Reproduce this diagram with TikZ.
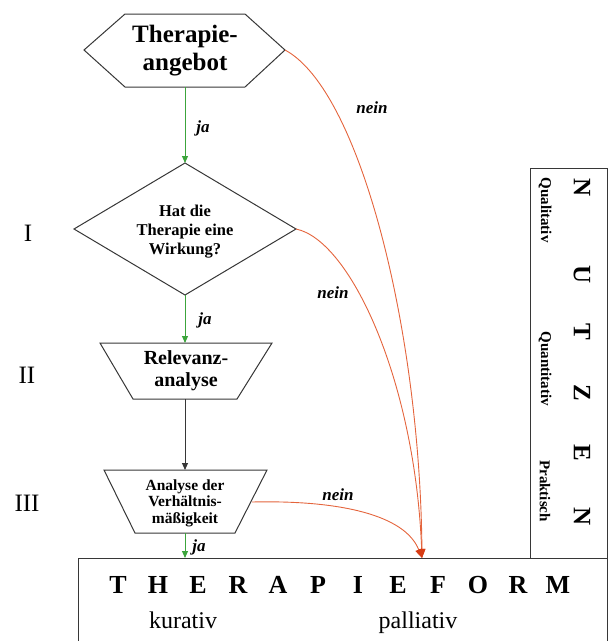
\documentclass[tikz,border=0pt]{standalone}
\usepackage{fontspec}
\setmainfont{Liberation Serif}
\usetikzlibrary{arrows.meta}
\definecolor{jagreen}{RGB}{60,165,60}
\definecolor{neinred}{RGB}{228,100,60}
\definecolor{tipred}{RGB}{215,60,20}
\definecolor{linegray}{RGB}{55,55,55}
\begin{document}
\begin{tikzpicture}[x=1pt,y=-1pt,
  outline/.style={draw=linegray, line width=1pt, line join=miter},
  boxtext/.style={align=center, inner sep=0pt, text=black},
  yesarrow/.style={draw=jagreen, line width=0.9pt, -{Triangle[length=7pt,width=6pt]}},
  plainarrow/.style={draw=linegray, line width=0.9pt, -{Triangle[length=7pt,width=6pt]}},
  noarrow/.style={draw=neinred, line width=0.9pt, -{Triangle[length=9pt,width=7pt,color=tipred]}},
  edgelabel/.style={font=\fontsize{17}{19}\selectfont\bfseries\itshape, inner sep=0pt},
  roman/.style={font=\fontsize{25}{28}\selectfont, inner sep=0pt},
  bigletter/.style={font=\fontsize{26}{28}\selectfont\bfseries, inner sep=0pt},
  sideletter/.style={font=\fontsize{25}{28}\selectfont\bfseries, inner sep=0pt, rotate=-90},
  sidetext/.style={font=\fontsize{15}{17}\selectfont\bfseries, inner sep=0pt, rotate=-90},
  formtext/.style={font=\fontsize{24}{26}\selectfont, inner sep=0pt, anchor=base}
]
\useasboundingbox (0,0) rectangle (609,641);

% hexagon
\coordinate (hexL) at (84,50);
\coordinate (hexR) at (285,50);
\coordinate (hexB) at (185,87);
\draw[outline] (hexL) -- (125,14) -- (245,14) -- (hexR) -- (245,87) -- (125,87) -- cycle;
\node[boxtext, font=\fontsize{25}{28}\selectfont\bfseries] (angebot) at (185,51) {Therapie-\\angebot};

% diamond
\coordinate (diaT) at (185,163);
\coordinate (diaR) at (296,229);
\coordinate (diaB) at (185,295);
\coordinate (diaL) at (74,229);
\draw[outline] (diaT) -- (diaR) -- (diaB) -- (diaL) -- cycle;
\node[boxtext, font=\fontsize{16.5}{19}\selectfont\bfseries] (wirkung) at (185,232) {Hat die\\Therapie eine\\Wirkung?};

% Relevanzanalyse
\coordinate (relT) at (185,343);
\coordinate (relB) at (185,399);
\draw[outline] (100,343) -- (272,343) -- (237,399) -- (133,399) -- cycle;
\node[boxtext, font=\fontsize{20}{22}\selectfont\bfseries] (relevanz) at (186,371) {Relevanz-\\analyse};

% Verhaeltnismaessigkeit
\coordinate (verT) at (185,470);
\coordinate (verB) at (185,533);
\coordinate (verR) at (252,502);
\draw[outline] (104,470) -- (267,470) -- (235,533) -- (135,533) -- cycle;
\node[boxtext, font=\fontsize{15.5}{16.5}\selectfont\bfseries] (verh) at (185,503) {Analyse der\\Verhältnis-\\mäßigkeit};

% Therapieform box
\coordinate (thfTop) at (422,558);
\coordinate (thfJa) at (185,558);
\draw[outline] (78,645) -- (78,558) -- (607,558) -- (607,645);
\node[bigletter, anchor=base] (thf) at (338,593) {%
  \makebox[40pt]{T}\makebox[40pt]{H}\makebox[40pt]{E}\makebox[40pt]{R}%
  \makebox[40pt]{A}\makebox[40pt]{P}\makebox[40pt]{I}\makebox[40pt]{E}%
  \makebox[40pt]{F}\makebox[40pt]{O}\makebox[40pt]{R}\makebox[40pt]{M}};
\node[formtext] (kurativ) at (183,628) {kurativ};
\node[formtext] (palliativ) at (418,628) {palliativ};

% Nutzen box
\draw[outline] (530,558) -- (530,168) -- (607,168) -- (607,558);
\node[sideletter] (n1) at (582,188) {N};
\node[sideletter] (n2) at (582,275) {U};
\node[sideletter] (n3) at (582,332) {T};
\node[sideletter] (n4) at (582,393) {Z};
\node[sideletter] (n5) at (582,453) {E};
\node[sideletter] (n6) at (582,517) {N};
\node[sidetext] (qual) at (545,210) {Qualitativ};
\node[sidetext] (quant) at (545,369) {Quantitativ};
\node[sidetext] (prakt) at (545,491) {Praktisch};

% roman numerals
\node[roman] (r1) at (28,233) {I};
\node[roman] (r2) at (27,375) {II};
\node[roman] (r3) at (27,503) {III};

% yes arrows
\draw[yesarrow] (hexB) -- (diaT);
\draw[yesarrow] (diaB) -- (relT);
\draw[plainarrow] (relB) -- (verT);
\draw[yesarrow] (verB) -- (thfJa);
\node[edgelabel] (ja1) at (203,128) {ja};
\node[edgelabel] (ja2) at (205,320) {ja};
\node[edgelabel] (ja3) at (199,547) {ja};

% no arrows
\draw[noarrow] (hexR) .. controls (360,90) and (420,330) .. (thfTop);
\draw[noarrow] (diaR) .. controls (350,240) and (415,380) .. (thfTop);
\draw[noarrow] (verR) .. controls (340,500) and (405,515) .. (thfTop);
\node[edgelabel] (nein1) at (372,108) {nein};
\node[edgelabel] (nein2) at (333,293) {nein};
\node[edgelabel] (nein3) at (338,495) {nein};
\end{tikzpicture}
\end{document}
